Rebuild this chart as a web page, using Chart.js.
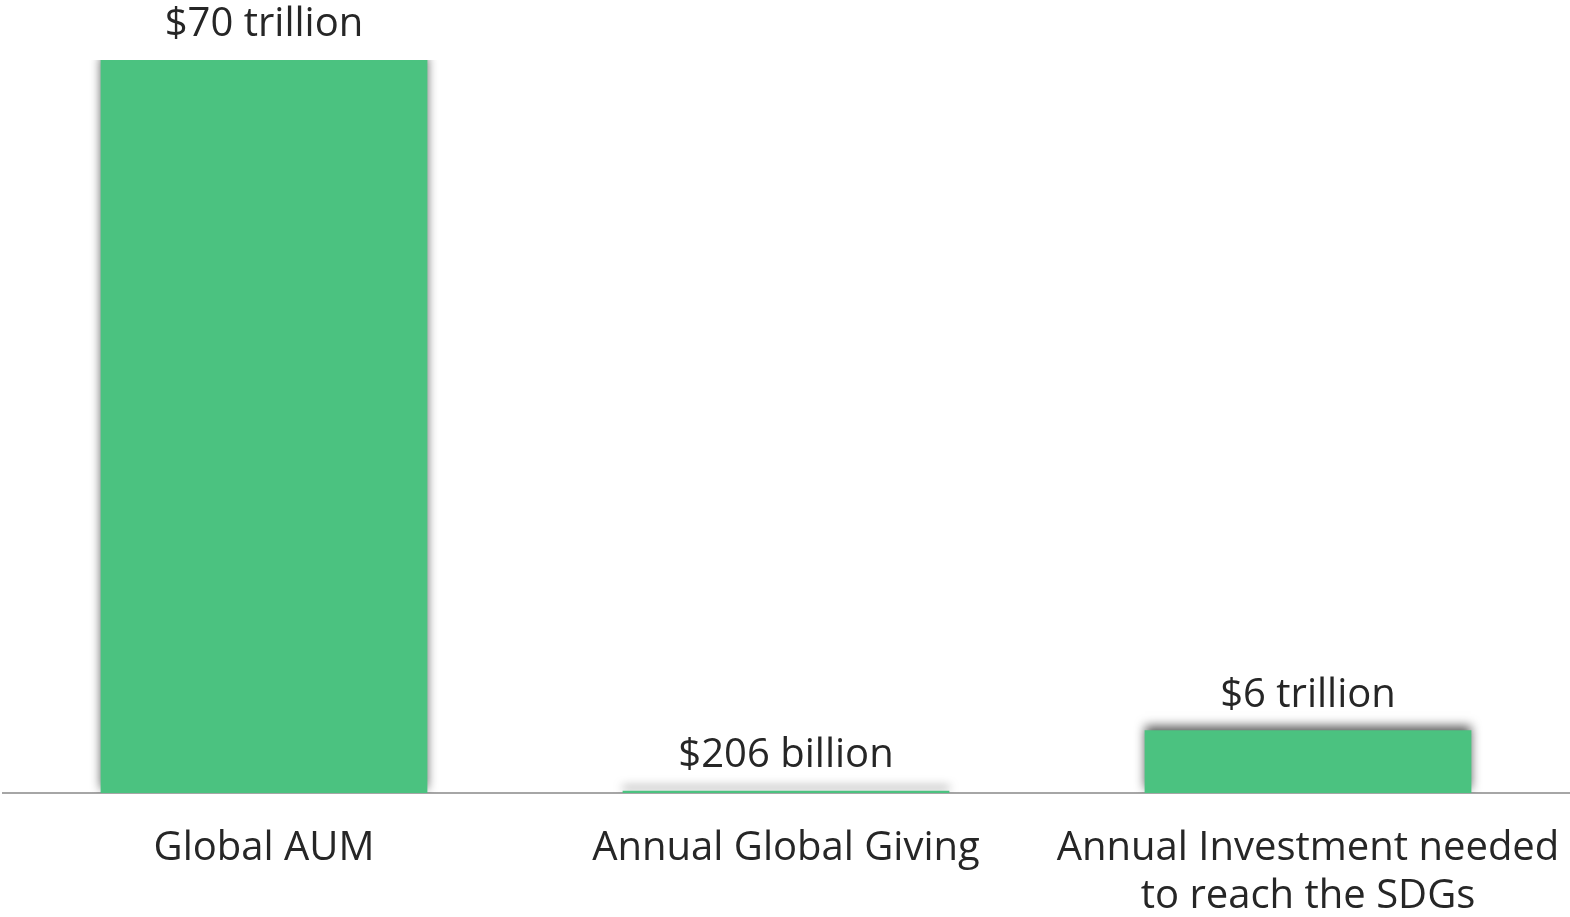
<!DOCTYPE html>
<html>
<head>
<meta charset="utf-8">
<script src="https://cdn.jsdelivr.net/npm/chart.js@4.4.0/dist/chart.umd.min.js"></script>
<style>
  html, body { margin: 0; padding: 0; background: #fff; }
  #wrap { width: 1570px; height: 917px; position: relative; }
</style>
</head>
<body>
<div id="wrap"><canvas id="fundChart"></canvas></div>
<script>
// values in trillions of US dollars
const categories = ['Global AUM', 'Annual Global Giving', ['Annual Investment needed', 'to reach the SDGs']];
const amounts = [70, 0.206, 6];
const amountLabels = ['$70 trillion', '$206 billion', '$6 trillion'];

const green = '#4BC280';
const textColor = '#262626';
const fontFamily = '"Open Sans", "Noto Sans", sans-serif';

// soft drop shadow behind the bars
const barShadow = {
    id: 'barShadow',
    beforeDatasetDraw(chart) {
        const ctx = chart.ctx;
        ctx.save();
        ctx.shadowColor = 'rgba(0, 0, 0, 0.65)';
        ctx.shadowBlur = 10;
        ctx.shadowOffsetX = 0;
        ctx.shadowOffsetY = -4;
    },
    afterDatasetDraw(chart) {
        chart.ctx.restore();
    }
};

// value text above each bar
const valueText = {
    id: 'valueText',
    afterDatasetsDraw(chart) {
        const ctx = chart.ctx;
        const meta = chart.getDatasetMeta(0);
        ctx.save();
        ctx.font = '40px ' + fontFamily;
        ctx.fillStyle = textColor;
        ctx.textAlign = 'center';
        ctx.textBaseline = 'middle';
        meta.data.forEach((bar, i) => {
            ctx.fillText(amountLabels[i], bar.x, bar.y - 35);
        });
        ctx.restore();
    }
};

const ctx1 = document.getElementById('fundChart').getContext('2d');
const fundChart = new Chart(ctx1, {
    type: 'bar',
    data: {
        labels: categories,
        datasets: [{
            data: amounts,
            backgroundColor: green,
            borderWidth: 0,
            barPercentage: 0.626,
            categoryPercentage: 1.0
        }]
    },
    options: {
        responsive: true,
        maintainAspectRatio: false,
        animation: false,
        layout: {
            padding: { top: 60, left: 3, right: 1, bottom: 0 }
        },
        plugins: {
            legend: { display: false },
            tooltip: { enabled: false }
        },
        scales: {
            x: {
                grid: { display: false, drawTicks: false },
                border: { display: true, color: '#A6A6A6', width: 2 },
                ticks: {
                    color: textColor,
                    font: { family: fontFamily, size: 40, lineHeight: 1.2 },
                    padding: 32,
                    maxRotation: 0,
                    autoSkip: false
                },
                afterFit(scale) {
                    // labels fit inside their category, no side padding needed
                    scale.paddingLeft = 0;
                    scale.paddingRight = 0;
                    scale.height = 124;
                }
            },
            y: {
                display: false,
                min: 0,
                max: 70
            }
        }
    },
    plugins: [barShadow, valueText]
});
</script>
</body>
</html>
